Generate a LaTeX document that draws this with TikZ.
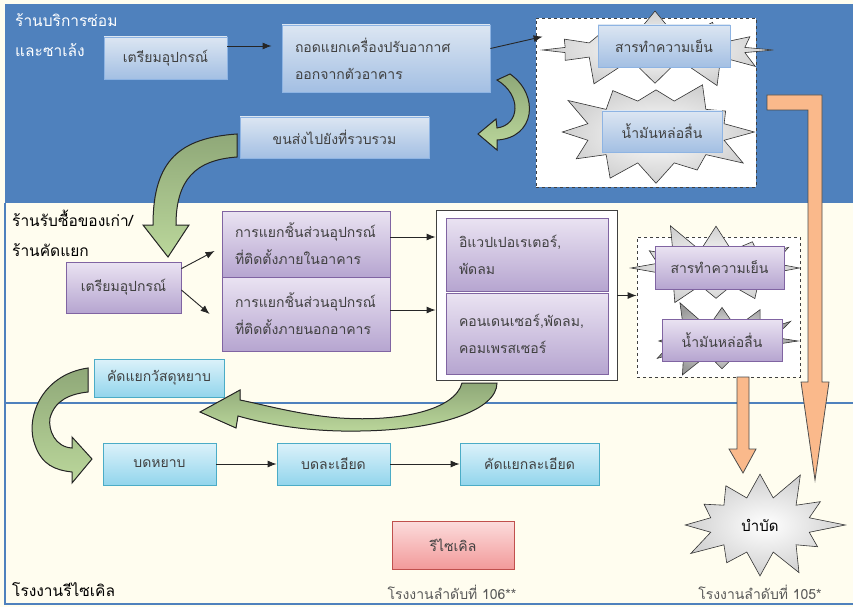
\documentclass[tikz,border=0pt]{standalone}
\usepackage{fontspec}
\setmainfont{Loma}[Script=Thai]
\usepackage{xcolor}
\usetikzlibrary{shapes.symbols,arrows.meta}
\definecolor{RCBlue}{HTML}{4F81BD}
\definecolor{RCCream}{HTML}{FFFDEF}
\definecolor{RCText}{HTML}{404040}
\definecolor{RCMuted}{HTML}{595959}
\definecolor{RCSkyTop}{HTML}{DCE6F2}
\definecolor{RCSkyBot}{HTML}{A3BFE3}
\definecolor{RCSkyLine}{HTML}{8EB4E3}
\definecolor{RCLilacTop}{HTML}{EAE3F2}
\definecolor{RCLilacBot}{HTML}{B6A5D0}
\definecolor{RCLilacLine}{HTML}{8064A2}
\definecolor{RCCyanTop}{HTML}{DCF2FA}
\definecolor{RCCyanBot}{HTML}{92D5EC}
\definecolor{RCCyanLine}{HTML}{4BACC6}
\definecolor{RCPinkTop}{HTML}{FCDCDC}
\definecolor{RCPinkBot}{HTML}{F29A9A}
\definecolor{RCPinkLine}{HTML}{C0504D}
\definecolor{RCOrange}{HTML}{FAB98B}
\definecolor{RCLeafDark}{HTML}{8FA878}
\definecolor{RCLeafLight}{HTML}{BBD79B}
\definecolor{RCBurst}{HTML}{D0D0D0}
\definecolor{RCBurstDark}{HTML}{9A9A9A}

\tikzset{
  rcbox/.style={rectangle, inner ysep=0pt, inner xsep=13pt, text=RCText,
    font=\fontsize{14}{27}\selectfont, align=left},
  rcsky/.style={rcbox, draw=RCSkyLine, line width=.8pt, top color=RCSkyTop, bottom color=RCSkyBot},
  rclilac/.style={rcbox, draw=RCLilacLine, line width=.8pt, top color=RCLilacTop, bottom color=RCLilacBot},
  rccyan/.style={rcbox, draw=RCCyanLine, line width=.8pt, top color=RCCyanTop, bottom color=RCCyanBot},
  rcpink/.style={rcbox, draw=RCPinkLine, line width=.8pt, top color=RCPinkTop, bottom color=RCPinkBot},
  rcsection/.style={anchor=west, inner sep=0pt, font=\fontsize{15.5}{18}\selectfont},
  rcnote/.style={inner sep=0pt, text=RCMuted, font=\fontsize{14}{16}\selectfont},
  rcdashbox/.style={rectangle, draw=black!75, fill=white, dashed, line width=.8pt, inner sep=0pt},
  rcburst/.style={starburst, starburst points=12, starburst point height=32pt,
    draw=black!80, line width=.6pt, inner color=white, outer color=RCBurst, inner sep=0pt},
  rcarrow/.style={draw=black!85, line width=.9pt, -{Latex[length=9pt,width=7pt]}},
  rcorange/.style={fill=RCOrange, draw=black!70, line width=.8pt},
  rcleaf/.style={top color=RCLeafDark, bottom color=RCLeafLight, draw=black!85, line width=1pt}
}

\begin{document}
\begin{tikzpicture}[x=1pt,y=-1pt]
\path[use as bounding box] (0,0) rectangle (853,607);
\fill[RCCream] (0,0) rectangle (853,607);
\fill[RCBlue] (5,4) rectangle (853,203);
\draw[RCBlue,line width=2pt] (5,203) -- (5,604) -- (853,604);
\draw[RCBlue,line width=2pt] (5,403) -- (853,403);

% repair shops
\node[rcsection,text=white] at (15,20) {ร้านบริการซ่อม};
\node[rcsection,text=white] at (15,50) {และซาเล้ง};
\node[rcsky,minimum width=123pt,minimum height=42pt] (tprep) at (165.5,58) {เตรียมอุปกรณ์};
\node[rcsky,text width=182pt,minimum height=67pt] (tdis) at (386,58.5) {ถอดแยกเครื่องปรับอากาศ\\ออกจากตัวอาคาร};
\node[rcsky,minimum width=189pt,minimum height=41pt] (thaul) at (334.5,137.5) {ขนส่งไปยังที่รวบรวม};
\node[rcdashbox,minimum width=220pt,minimum height=169pt] (tbin) at (646,102.5) {};
\node[rcburst,minimum width=250pt,minimum height=84pt,random starburst=7] (tburstA) at (655,50) {};
\node[rcburst,minimum width=205pt,minimum height=128pt,random starburst=3] (tburstB) at (656,132) {};
\node[rcsky,minimum width=132pt,minimum height=42pt] (tcool) at (664,46) {สารทำความเย็น};
\node[rcsky,minimum width=120pt,minimum height=41pt] (toil) at (662,131.5) {น้ำมันหล่อลื่น};
\draw[rcarrow] ([yshift=12pt]tprep.east) -- ([yshift=12pt,xshift=-10pt]tprep.east -| tdis.west);
\draw[rcarrow] ([yshift=10pt]tdis.east) -- ([xshift=7pt,yshift=-19pt]tbin.north west);
\filldraw[rcleaf] (510,74) .. controls (540,95) and (535,138) .. (497,140) -- (497,150) -- (478,134)
  -- (496,119) -- (497,128) .. controls (520,125) and (522,95) .. (497,80) -- cycle;
\filldraw[rcleaf] (237,134) .. controls (180,138) and (153,160) .. (153,225) -- (143,225) -- (168,257)
  -- (189,225) -- (176,225) .. controls (176,180) and (195,160) .. (237,157) -- cycle;
\filldraw[rcorange] (767,95) -- (822,95) -- (822,382) -- (829,382) -- (815,480) -- (801,382)
  -- (808,382) -- (808,110) -- (767,110) -- cycle;

% buy-back shops
\node[rcsection] at (12,218) {ร้านรับซื้อของเก่า/};
\node[rcsection] at (12,250) {ร้านคัดแยก};
\node[rclilac,minimum width=115pt,minimum height=51pt] (mprep) at (123.5,287.5) {เตรียมอุปกรณ์};
\node[rclilac,text width=142pt,minimum height=66pt] (min) at (306,244) {การแยกชิ้นส่วนอุปกรณ์\\ที่ติดตั้งภายในอาคาร};
\node[rclilac,text width=142pt,minimum height=74pt] (mout) at (306,314) {การแยกชิ้นส่วนอุปกรณ์\\ที่ติดตั้งภายนอกอาคาร};
\node[rectangle,draw=black!75,fill=white,line width=.9pt,minimum width=181pt,minimum height=170pt] (mparts) at (526.5,295.5) {};
\node[rclilac,text width=136pt,minimum height=73pt] (mevap) at (527,254.5) {อิแวปเปอเรเตอร์,\\พัดลม};
\node[rclilac,text width=136pt,minimum height=81pt] (mcond) at (527,333.5) {คอนเดนเซอร์,พัดลม,\\คอมเพรสเซอร์};
\node[rcdashbox,minimum width=163pt,minimum height=140pt] (mbin) at (718.5,307) {};
\node[rcburst,minimum width=185pt,minimum height=100pt,random starburst=11] (mburstA) at (716,268) {};
\node[rcburst,outer color=RCBurstDark,minimum width=172pt,minimum height=92pt,random starburst=5] (mburstB) at (722,341) {};
\node[rclilac,minimum width=129pt,minimum height=43pt] (mcool) at (719.5,267.5) {สารทำความเย็น};
\node[rclilac,minimum width=120pt,minimum height=42pt] (moil) at (722,340) {น้ำมันหล่อลื่น};
\node[rccyan,minimum width=128pt,minimum height=38pt] (msort) at (159,378) {คัดแยกวัสดุหยาบ};
\draw[rcarrow] ([yshift=-7pt]mprep.north east) -- ([xshift=-7pt,yshift=-7pt]min.west);
\draw[rcarrow] ([yshift=-2.5pt]mprep.east) -- ([xshift=-12pt]mout.west);
\draw[rcarrow] ([yshift=7pt]min.east) -- ([yshift=7pt]min.east -| mparts.west);
\draw[rcarrow] ([yshift=4pt]mout.east) -- ([yshift=4pt]mout.east -| mparts.west);
\draw[rcarrow] (mparts.east) -- (mparts.east -| mbin.west);
\filldraw[rcorange] (737,377) -- (749,377) -- (749,449) -- (756,449) -- (743,473) -- (729,449)
  -- (737,449) -- cycle;
\filldraw[rcleaf] (462,383) .. controls (455,410) and (400,422) .. (340,418) .. controls (300,415) and (265,405) .. (240,400)
  -- (240,390) -- (200,412) -- (236,428) -- (238,416) .. controls (270,425) and (310,432) .. (360,431)
  .. controls (440,430) and (497,410) .. (497,383) -- cycle;
\filldraw[rcleaf] (88,368) .. controls (40,375) and (25,420) .. (35,445) .. controls (42,465) and (55,470) .. (72,472)
  -- (72,483) -- (92,459) -- (72,437) -- (72,448) .. controls (55,447) and (48,430) .. (50,418)
  .. controls (55,400) and (70,394) .. (88,392) -- cycle;

% recycling plant
\node[rccyan,minimum width=113pt,minimum height=42pt] (bcoarse) at (159.5,464) {บดหยาบ};
\node[rccyan,minimum width=113pt,minimum height=42pt] (bfine) at (333.5,464) {บดละเอียด};
\node[rccyan,minimum width=139pt,minimum height=42pt] (bsort) at (529.5,464) {คัดแยกละเอียด};
\node[rcpink,minimum width=122pt,minimum height=48pt] (brecycle) at (453,545) {รีไซเคิล};
\node[rcburst,minimum width=186pt,minimum height=140pt,starburst point height=42pt,random starburst=2,
  text=black,font=\fontsize{15}{17}\selectfont] (btreat) at (760,525) {บำบัด};
\draw[rcarrow] (bcoarse) -- (bfine);
\draw[rcarrow] (bfine) -- (bsort);
\node[rcnote] (bnoteA) at (452,592) {โรงงานลำดับที่ 106**};
\node[rcnote] (bnoteB) at (760,592) {โรงงานลำดับที่ 105*};
\node[rcsection] at (12,590) {โรงงานรีไซเคิล};
\end{tikzpicture}
\end{document}
